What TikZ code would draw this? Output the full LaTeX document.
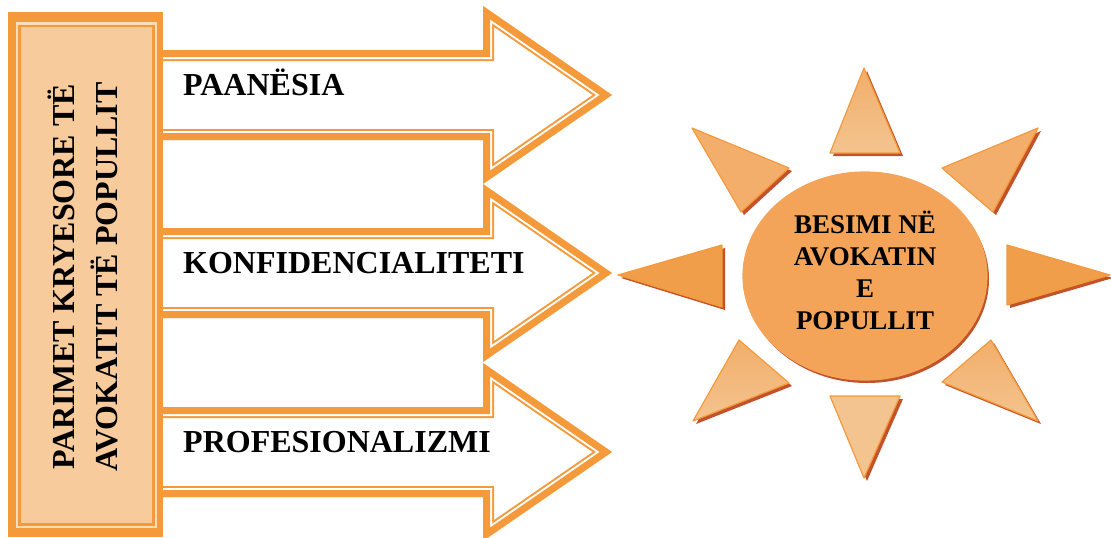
\documentclass[tikz,border=0pt]{standalone}
\usepackage{fontspec}
\setmainfont{Liberation Serif}
\usetikzlibrary{shapes.geometric}

\definecolor{orangeline}{HTML}{F49A3B}
\definecolor{boxfill}{HTML}{F7CB9B}
\definecolor{boxstrip}{HTML}{FBDDB8}
\definecolor{raylight}{HTML}{F3C48F}
\definecolor{raymid}{HTML}{F2AE6A}
\definecolor{raydark}{HTML}{F09E4A}
\definecolor{shadowred}{HTML}{C2522A}
\definecolor{sunmid}{HTML}{F2932C}
\definecolor{sunedge}{HTML}{F3A458}

\newcommand\arrowpath[1]{(150,{#1-45}) -- (483,{#1-45}) -- (483,{#1-89}) -- (612,#1) -- (483,{#1+89}) -- (483,{#1+45}) -- (150,{#1+45}) -- cycle}

\tikzset{
	lab/.style={anchor=base west, inner sep=0pt, font=\fontsize{32}{38}\selectfont\bfseries},
	rayshadow/.style={fill=shadowred, shift={(3,3)}},
	ray/.style={draw=orangeline, line width=1.2, line join=round},
}

\begin{document}
\begin{tikzpicture}[x=1pt, y=-1pt]
		
		\useasboundingbox (0,0) rectangle (1111,538);
		
		\begin{scope}
			\clip \arrowpath{95};
			\draw[orangeline, line width=22] \arrowpath{95};
			\draw[white, line width=18] \arrowpath{95};
			\draw[orangeline, line width=14] \arrowpath{95};
		\end{scope}
		\begin{scope}
			\clip \arrowpath{273};
			\draw[orangeline, line width=22] \arrowpath{273};
			\draw[white, line width=18] \arrowpath{273};
			\draw[orangeline, line width=14] \arrowpath{273};
		\end{scope}
		\begin{scope}
			\clip \arrowpath{452};
			\draw[orangeline, line width=22] \arrowpath{452};
			\draw[white, line width=18] \arrowpath{452};
			\draw[orangeline, line width=14] \arrowpath{452};
		\end{scope}
		
		\node[lab] (paanesia) at (183,95) {PAANËSIA};
		\node[lab] (konf) at (183,273) {KONFIDENCIALITETI};
		\node[lab] (prof) at (183,452) {PROFESIONALIZMI};
		
		\fill[orangeline] (8,12) rectangle (163,537);
		\fill[boxstrip] (16,22) rectangle (157,528);
		\fill[orangeline] (18,25) rectangle (155,526);
		\fill[boxfill] (21,27) rectangle (152,523);
		\node[rotate=90, align=center, font=\fontsize{32}{43}\selectfont\bfseries] (parimet) at (83,277) {PARIMET KRYESORE TË\\AVOKATIT TË POPULLIT};
		
		\fill[rayshadow] (864,68) -- (830,153) -- (900,153) -- cycle;
		\fill[rayshadow] (864,478) -- (830,396) -- (900,396) -- cycle;
		\fill[rayshadow] (618,275) -- (722,245) -- (722,307) -- cycle;
		\fill[rayshadow] (1110,275) -- (1007,245) -- (1007,305) -- cycle;
		\fill[rayshadow] (692,128) -- (789,168) -- (741,212) -- cycle;
		\fill[rayshadow] (1038,128) -- (942,168) -- (993,212) -- cycle;
		\fill[rayshadow] (739,340) -- (789,383) -- (693,421) -- cycle;
		\fill[rayshadow] (991,340) -- (942,382) -- (1038,421) -- cycle;
		
		\draw[ray, top color=raymid, bottom color=raylight] (864,68) -- (830,153) -- (900,153) -- cycle;
		\draw[ray, top color=raylight, bottom color=raylight] (864,478) -- (830,396) -- (900,396) -- cycle;
		\draw[ray, top color=raydark, bottom color=raydark] (618,275) -- (722,245) -- (722,307) -- cycle;
		\draw[ray, top color=raydark, bottom color=raydark] (1110,275) -- (1007,245) -- (1007,305) -- cycle;
		\draw[ray, top color=raymid, bottom color=raymid] (692,128) -- (789,168) -- (741,212) -- cycle;
		\draw[ray, top color=raymid, bottom color=raymid] (1038,128) -- (942,168) -- (993,212) -- cycle;
		\draw[ray, top color=raymid, bottom color=raylight] (739,340) -- (789,383) -- (693,421) -- cycle;
		\draw[ray, top color=raymid, bottom color=raylight] (991,340) -- (942,382) -- (1038,421) -- cycle;
		
		\fill[shadowred] (867,279) ellipse [x radius=122, y radius=104];
		\node[ellipse, draw=sunedge, line width=1.2, top color=sunedge, middle color=sunmid, bottom color=sunedge, minimum width=244, minimum height=208, inner sep=0pt] (sun) at (865,276) {};
		\node[align=center, font=\fontsize{27}{32}\selectfont\bfseries] (besimi) at (865,270) {BESIMI NË\\AVOKATIN \\E\\POPULLIT};
		
	\end{tikzpicture}
\end{document}
